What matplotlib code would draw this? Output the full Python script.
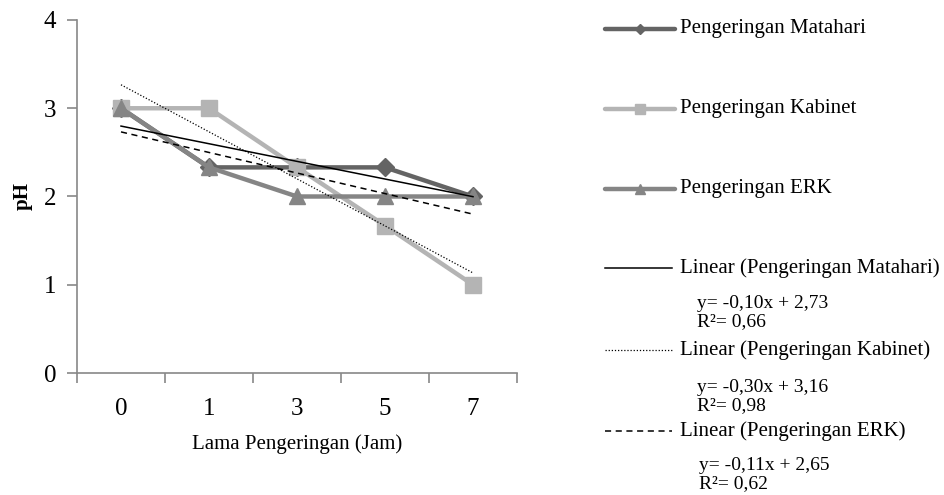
import numpy as np
import matplotlib
matplotlib.use("Agg")
import matplotlib.pyplot as plt
from matplotlib.lines import Line2D

categories = ["0", "1", "3", "5", "7"]
matahari = [3.0, 2.33, 2.33, 2.33, 2.0]
kabinet = [3.0, 3.0, 2.33, 1.67, 1.0]
erk = [3.0, 2.33, 2.0, 2.0, 2.0]
series_names = ["Pengeringan Matahari", "Pengeringan Kabinet", "Pengeringan ERK"]
equations = [("y= -0,10x + 2,73", "R²= 0,66"),
             ("y= -0,30x + 3,16", "R²= 0,98"),
             ("y= -0,11x + 2,65", "R²= 0,62")]

plt.rcParams['font.family'] = ['Liberation Serif', 'DejaVu Serif']

fig = plt.figure(figsize=(9.44, 4.95), dpi=100)
ax = fig.add_axes([77/944, 1-373/495, 440/944, 353/495])

x = np.arange(len(categories))
colors = ["#646464", "#b4b4b4", "#858585"]
markers = ["D", "s", "^"]
msizes = [9, 12, 12]
data = [matahari, kabinet, erk]
for vals, c, m, ms, name in zip(data, colors, markers, msizes, series_names):
    ax.plot(x, vals, color=c, lw=3.2, marker=m, ms=ms, mec=c, mfc=c, label=name)

trend_styles = [dict(ls="-", lw=1.1), dict(ls=(0, (1, 1.5)), lw=0.9), dict(ls=(0, (4, 3)), lw=1.1)]
for vals, st in zip(data, trend_styles):
    idx = x + 1
    k, b = np.polyfit(idx, vals, 1)
    ax.plot(x, k * idx + b, color="black", **st)

ax.set_xlim(-0.5, len(categories) - 0.5)
ax.set_ylim(0, 4)
ax.set_yticks([0, 1, 2, 3, 4])
ax.set_xticks(x)
ax.set_xticklabels(categories)
ax.set_xticks(np.arange(-0.5, len(categories), 1), minor=True)
ax.tick_params(axis='x', which='major', length=0, labelsize=18, pad=18)
ax.tick_params(axis='x', which='minor', length=7, direction='out', color="#888888", width=1.2)
ax.tick_params(axis='y', length=7, direction='out', color="#888888", width=1.2, labelsize=18, pad=8)
for s in ["top", "right"]:
    ax.spines[s].set_visible(False)
for s in ["left", "bottom"]:
    ax.spines[s].set_color("#888888")
    ax.spines[s].set_linewidth(1.2)
ax.set_xlabel("Lama Pengeringan (Jam)", fontsize=15, labelpad=10)
ax.set_ylabel("pH", fontsize=15, fontweight="bold", labelpad=8)

def fx(px):
    return px / 944

def fy(py):
    return 1 - py / 495

# legend: series
ys = [29, 109, 189]
for yy, c, m, ms, name in zip(ys, colors, markers, msizes, series_names):
    fig.add_artist(Line2D([fx(605), fx(675)], [fy(yy), fy(yy)], color=c, lw=3.2,
                          solid_capstyle='round'))
    fig.add_artist(Line2D([fx(640)], [fy(yy)], color=c, marker=m, ms=ms * 0.6, mec=c, mfc=c))
    fig.text(fx(680), fy(yy), name, fontsize=15, va="center", ha="left")

# legend: trendlines
lys = [268, 350, 431]
eq_ys = [(304, 322), (388, 406), (466, 484)]
eq_x = [697, 697, 699]
for yy, st, name, (e1, e2), (ey1, ey2), ex in zip(lys, trend_styles, series_names, equations, eq_ys, eq_x):
    fig.add_artist(Line2D([fx(605), fx(672)], [fy(yy), fy(yy)], color="black", **st))
    fig.text(fx(680), fy(yy), "Linear (" + name + ")", fontsize=15, va="center", ha="left")
    fig.text(fx(ex), fy(ey1), e1, fontsize=14, va="center", ha="left")
    fig.text(fx(ex), fy(ey2), e2, fontsize=14, va="center", ha="left")

fig.savefig("out.png", dpi=100)
